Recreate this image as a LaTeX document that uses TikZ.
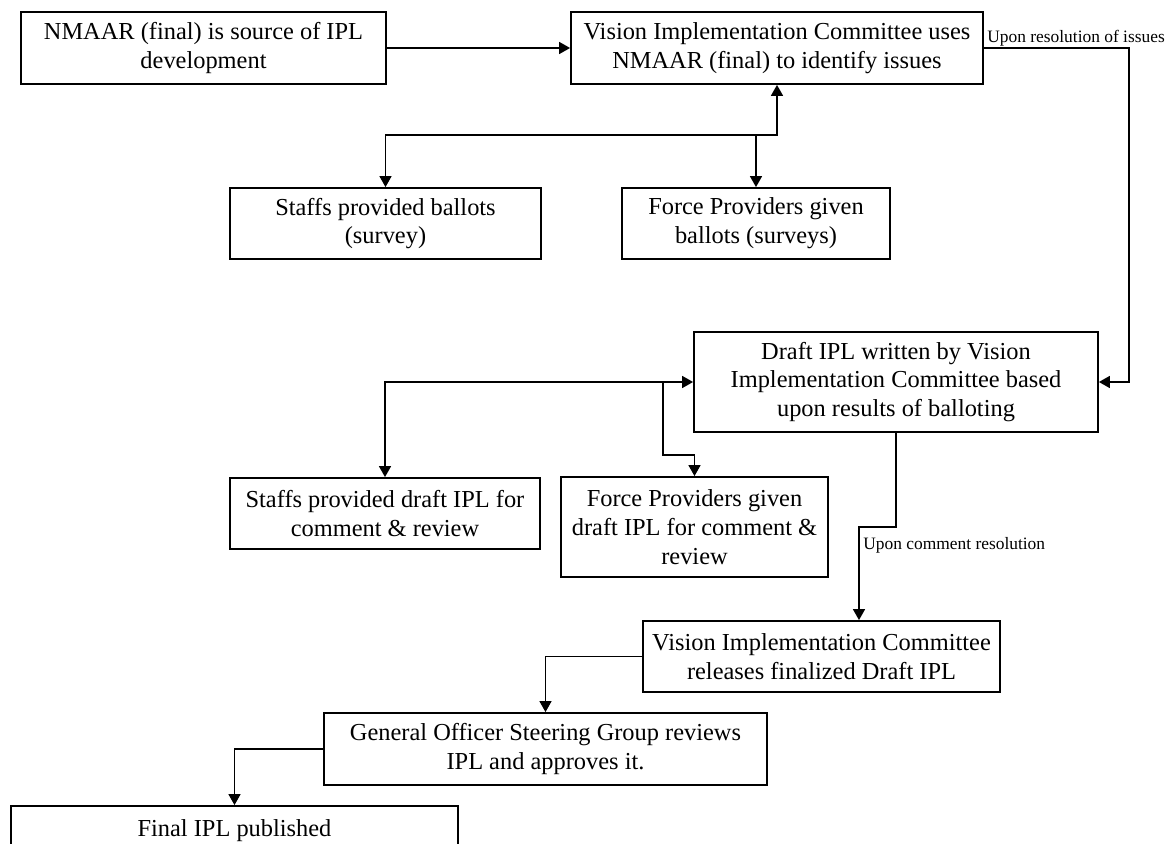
\documentclass[tikz,border=0pt]{standalone}
\usepackage{fontspec}
\setmainfont{Liberation Serif}
\usetikzlibrary{arrows.meta}
\newcommand{\mainsz}{\fontsize{12.2}{14.4}\selectfont}
\newcommand{\labsz}{\fontsize{8.7}{10}\selectfont}
\begin{document}
\begin{tikzpicture}[x=0.5pt,y=-0.5pt,
  box/.style={draw, line width=0.9pt, align=center, inner sep=0pt, font=\mainsz},
  conn/.style={line width=0.75pt},
  arr/.style={conn, -{Triangle[length=5.5pt,width=6pt]}},
  arrboth/.style={conn, {Triangle[length=5.5pt,width=6pt]}-{Triangle[length=5.5pt,width=6pt]}},
  lab/.style={font=\labsz, inner sep=0pt}]
\useasboundingbox (0,0) rectangle (1175,844);
\clip (0,0) rectangle (1175,844);

% boxes
\node[box, minimum width=182.5pt, minimum height=36pt] (A) at (203.5,48) {NMAAR (final) is source of IPL\\development};
\node[box, minimum width=206pt, minimum height=36pt] (B) at (777,48) {Vision Implementation Committee uses\\NMAAR (final) to identify issues};
\node[box, minimum width=155.5pt, minimum height=35.5pt] (SB) at (385.5,223.5) {Staffs provided ballots\\(survey)};
\node[box, minimum width=134pt, minimum height=35.5pt] (FB) at (756,223.5) {Force Providers given\\ballots (surveys)};
\node[box, minimum width=202pt, minimum height=50pt] (D) at (896,382) {Draft IPL written by Vision\\Implementation Committee based\\upon results of balloting};
\node[box, minimum width=155pt, minimum height=35.5pt] (SD) at (385,513.5) {Staffs provided draft IPL for\\comment \& review};
\node[box, minimum width=133.5pt, minimum height=50pt] (FD) at (694.5,527) {Force Providers given\\draft IPL for comment \&\\review};
\node[box, minimum width=178.5pt, minimum height=35.5pt] (V) at (821.5,656.5) {Vision Implementation Committee\\releases finalized Draft IPL};
\node[box, minimum width=221.5pt, minimum height=36pt] (G) at (545.5,749) {General Officer Steering Group reviews\\IPL and approves it.};
\node[box, minimum width=223.5pt, minimum height=36pt] (F) at (234.5,842) {Final IPL published\\\mbox{}};

% labels
\node[lab, anchor=west] (L1) at (987,38) {Upon resolution of issues};
\node[lab, anchor=west] (L2) at (863,545) {Upon comment resolution};

% junction coordinates
\coordinate (j1) at (777,135);
\coordinate (c1) at (1129,0);
\coordinate (j2) at (663,382);
\coordinate (j3) at (694.5,455);
\coordinate (k) at (859,527);

% connectors
\draw[arr] (A.east) -- (B.west);
\draw[arrboth] (SB.north) |- (j1) -- (B.south);
\draw[arr] (j1 -| FB.north) -- (FB.north);
\draw[arr] (B.east) -- (B.east -| c1) |- (D.east);
\draw[arrboth] (SD.north) |- (D.west);
\draw[arr] (j2) |- (j3) -- (FD.north);
\draw[arr] (D.south) |- (k) -- (k |- V.north);
\draw[arr] (V.west) -| (G.north);
\draw[arr] (G.west) -| (F.north);
\end{tikzpicture}
\end{document}
